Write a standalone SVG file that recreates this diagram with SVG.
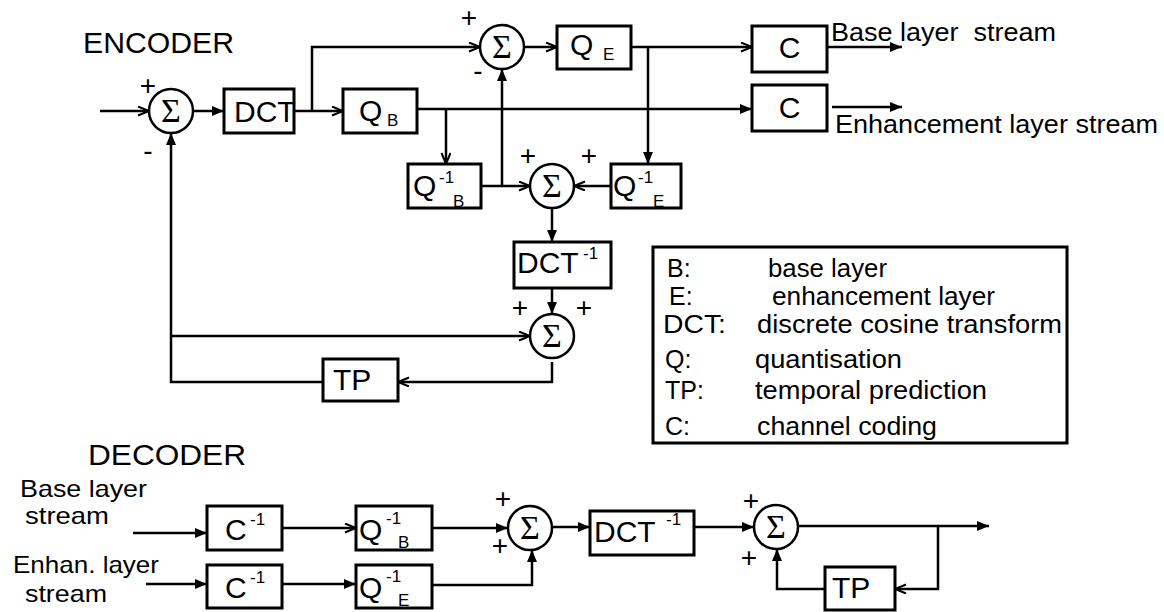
<svg xmlns="http://www.w3.org/2000/svg" width="1164" height="612" viewBox="0 0 1164 612">
<style>
.bg{fill:#fff}
.box{fill:#fff;stroke:#000;stroke-width:3}
.sum{fill:#fff;stroke:#000;stroke-width:2.5}
.ln{fill:none;stroke:#000;stroke-width:2.5}
.t{font-family:"Liberation Sans",Arial,sans-serif;fill:#000}
.big{font-size:30px}
.sub{font-size:17px}
.lbl{font-size:26px}
.leg{font-size:25px}
.dl{font-size:24px}
.ttl{font-size:30px}
.sig{font-family:"Liberation Serif","Times New Roman",serif;font-size:34px;text-anchor:middle;fill:#000}
.pm{font-family:"Liberation Sans",Arial,sans-serif;font-size:28px;text-anchor:middle;fill:#000}
</style>
<defs>
<marker id="af" markerUnits="userSpaceOnUse" markerWidth="14" markerHeight="12" refX="12" refY="5" orient="auto"><path d="M0,0 L12,5 L0,10 z" fill="#000"/></marker>
<marker id="ao" markerUnits="userSpaceOnUse" markerWidth="14" markerHeight="12" refX="12" refY="5" orient="auto"><path d="M1,0.5 L12,5 L1,9.5" fill="none" stroke="#000" stroke-width="2"/></marker>
</defs>
<rect class="bg" x="0" y="0" width="1164" height="612"/>

<g id="titles">
<text class="t ttl" x="83" y="53" textLength="151" lengthAdjust="spacingAndGlyphs">ENCODER</text>
<text class="t ttl" x="88" y="465" textLength="158" lengthAdjust="spacingAndGlyphs">DECODER</text>
</g>

<g id="connectors">
<path class="ln" d="M100,111 H149" marker-end="url(#ao)"/>
<path class="ln" d="M193,111 H224" marker-end="url(#af)"/>
<path class="ln" d="M294,111 H343" marker-end="url(#ao)"/>
<path class="ln" d="M312,111 V47 H480" marker-end="url(#ao)"/>
<path class="ln" d="M524,47 H557" marker-end="url(#ao)"/>
<path class="ln" d="M631,47 H752" marker-end="url(#ao)"/>
<path class="ln" d="M648,47 V164" marker-end="url(#af)"/>
<path class="ln" d="M417,109 H752" marker-end="url(#af)"/>
<path class="ln" d="M446,109 V164" marker-end="url(#ao)"/>
<path class="ln" d="M481,186 H530" marker-end="url(#ao)"/>
<path class="ln" d="M502,186 V69" marker-end="url(#af)"/>
<path class="ln" d="M611,186 H574" marker-end="url(#ao)"/>
<path class="ln" d="M552,208 V242" marker-end="url(#af)"/>
<path class="ln" d="M552,288 V314" marker-end="url(#af)"/>
<path class="ln" d="M552,362 V382 H398" marker-end="url(#ao)"/>
<path class="ln" d="M323,382 H171 V133" marker-end="url(#af)"/>
<path class="ln" d="M171,336 H530" marker-end="url(#ao)"/>
<path class="ln" d="M827,47 H902" marker-end="url(#af)"/>
<path class="ln" d="M832,107 H902" marker-end="url(#af)"/>
<path class="ln" d="M133,533 H207" marker-end="url(#af)"/>
<path class="ln" d="M282,528 H356" marker-end="url(#ao)"/>
<path class="ln" d="M432,528 H508" marker-end="url(#af)"/>
<path class="ln" d="M146,584 H207" marker-end="url(#af)"/>
<path class="ln" d="M282,584 H356" marker-end="url(#af)"/>
<path class="ln" d="M432,585 H532 V550" marker-end="url(#af)"/>
<path class="ln" d="M552,527 H590" marker-end="url(#af)"/>
<path class="ln" d="M694,527 H754" marker-end="url(#af)"/>
<path class="ln" d="M798,526 H989" marker-end="url(#af)"/>
<path class="ln" d="M938,526 V589 H895" marker-end="url(#ao)"/>
<path class="ln" d="M825,589 H777 V549" marker-end="url(#af)"/>
</g>

<g id="sum1"><circle class="sum" cx="171" cy="111" r="22"/><text class="sig" x="171" y="122">Σ</text><text class="pm" x="148" y="95">+</text><text class="pm" x="148" y="160">-</text></g>
<g id="dct"><rect class="box" x="224" y="89" width="70" height="44"/><text class="t big" x="234" y="122">DCT</text></g>
<g id="qb"><rect class="box" x="343" y="89" width="74" height="44"/><text class="t big" x="359" y="121">Q</text><text class="t sub" x="387" y="126">B</text></g>
<g id="sum2"><circle class="sum" cx="502" cy="47" r="22"/><text class="sig" x="502" y="58">Σ</text><text class="pm" x="469" y="27">+</text><text class="pm" x="478" y="80">-</text></g>
<g id="qe"><rect class="box" x="557" y="26" width="74" height="43"/><text class="t big" x="570" y="55">Q</text><text class="t sub" x="603" y="60">E</text></g>
<g id="c1"><rect class="box" x="752" y="26" width="75" height="46"/><text class="t big" x="789.5" y="58" text-anchor="middle">C</text></g>
<g id="c2"><rect class="box" x="752" y="85" width="75" height="46"/><text class="t big" x="789.5" y="118" text-anchor="middle">C</text></g>
<g id="out-labels">
<text class="t lbl" x="831" y="41" xml:space="preserve" style="white-space:pre" textLength="225" lengthAdjust="spacingAndGlyphs">Base layer  stream</text>
<text class="t lbl" x="835" y="133" textLength="323" lengthAdjust="spacingAndGlyphs">Enhancement layer stream</text>
</g>
<g id="qib"><rect class="box" x="408" y="164" width="73" height="44"/><text class="t big" x="413" y="196">Q</text><text class="t sub" x="439" y="183">-1</text><text class="t sub" x="453" y="207">B</text></g>
<g id="sum3"><circle class="sum" cx="552" cy="186" r="22"/><text class="sig" x="552" y="197">Σ</text><text class="pm" x="528" y="165">+</text><text class="pm" x="589" y="165">+</text></g>
<g id="qie"><rect class="box" x="611" y="164" width="70" height="44"/><text class="t big" x="613" y="196">Q</text><text class="t sub" x="638" y="183">-1</text><text class="t sub" x="653" y="207">E</text></g>
<g id="dcti"><rect class="box" x="514" y="242" width="97" height="46"/><text class="t big" x="517" y="273">DCT</text><text class="t sub" x="583" y="259">-1</text></g>
<g id="sum4"><circle class="sum" cx="552" cy="336" r="22"/><text class="sig" x="552" y="347">Σ</text><text class="pm" x="520" y="317">+</text><text class="pm" x="584" y="317">+</text></g>
<g id="tp"><rect class="box" x="323" y="359" width="75" height="42"/><text class="t big" x="333" y="390">TP</text></g>

<g id="legend">
<rect class="box" x="653" y="247" width="414" height="196"/>
<text class="t leg" x="667" y="277">B:</text><text class="t leg" x="768" y="277" textLength="119" lengthAdjust="spacingAndGlyphs">base layer</text>
<text class="t leg" x="669" y="305">E:</text><text class="t leg" x="772" y="305" textLength="223" lengthAdjust="spacingAndGlyphs">enhancement layer</text>
<text class="t leg" x="663" y="333" textLength="63" lengthAdjust="spacingAndGlyphs">DCT:</text><text class="t leg" x="757" y="333" textLength="305" lengthAdjust="spacingAndGlyphs">discrete cosine transform</text>
<text class="t leg" x="665" y="368">Q:</text><text class="t leg" x="755" y="368" textLength="147" lengthAdjust="spacingAndGlyphs">quantisation</text>
<text class="t leg" x="665" y="399">TP:</text><text class="t leg" x="755" y="399" textLength="232" lengthAdjust="spacingAndGlyphs">temporal prediction</text>
<text class="t leg" x="665" y="435">C:</text><text class="t leg" x="757" y="435" textLength="180" lengthAdjust="spacingAndGlyphs">channel coding</text>
</g>

<g id="dec-labels">
<text class="t dl" x="20" y="497" textLength="127" lengthAdjust="spacingAndGlyphs">Base layer</text>
<text class="t dl" x="25" y="524" textLength="84" lengthAdjust="spacingAndGlyphs">stream</text>
<text class="t dl" x="13" y="573" textLength="146" lengthAdjust="spacingAndGlyphs">Enhan. layer</text>
<text class="t dl" x="25" y="602" textLength="82" lengthAdjust="spacingAndGlyphs">stream</text>
</g>
<g id="ci1"><rect class="box" x="207" y="506" width="75" height="44"/><text class="t big" x="225" y="540">C</text><text class="t sub" x="250" y="525">-1</text></g>
<g id="qibd"><rect class="box" x="356" y="506" width="76" height="44"/><text class="t big" x="359" y="540">Q</text><text class="t sub" x="386" y="524">-1</text><text class="t sub" x="398" y="548">B</text></g>
<g id="ci2"><rect class="box" x="207" y="565" width="75" height="43"/><text class="t big" x="225" y="598">C</text><text class="t sub" x="250" y="583">-1</text></g>
<g id="qied"><rect class="box" x="356" y="565" width="76" height="43"/><text class="t big" x="359" y="598">Q</text><text class="t sub" x="386" y="582">-1</text><text class="t sub" x="398" y="606">E</text></g>
<g id="sum5"><circle class="sum" cx="530" cy="528" r="22"/><text class="sig" x="530" y="539">Σ</text><text class="pm" x="503" y="508">+</text><text class="pm" x="500" y="555">+</text></g>
<g id="dctid"><rect class="box" x="590" y="511" width="104" height="44"/><text class="t big" x="594" y="542">DCT</text><text class="t sub" x="666" y="525">-1</text></g>
<g id="sum6"><circle class="sum" cx="776" cy="527" r="22"/><text class="sig" x="776" y="538">Σ</text><text class="pm" x="751" y="510">+</text><text class="pm" x="749" y="567">+</text></g>
<g id="tpd"><rect class="box" x="825" y="567" width="70" height="43"/><text class="t big" x="832" y="598">TP</text></g>
</svg>
